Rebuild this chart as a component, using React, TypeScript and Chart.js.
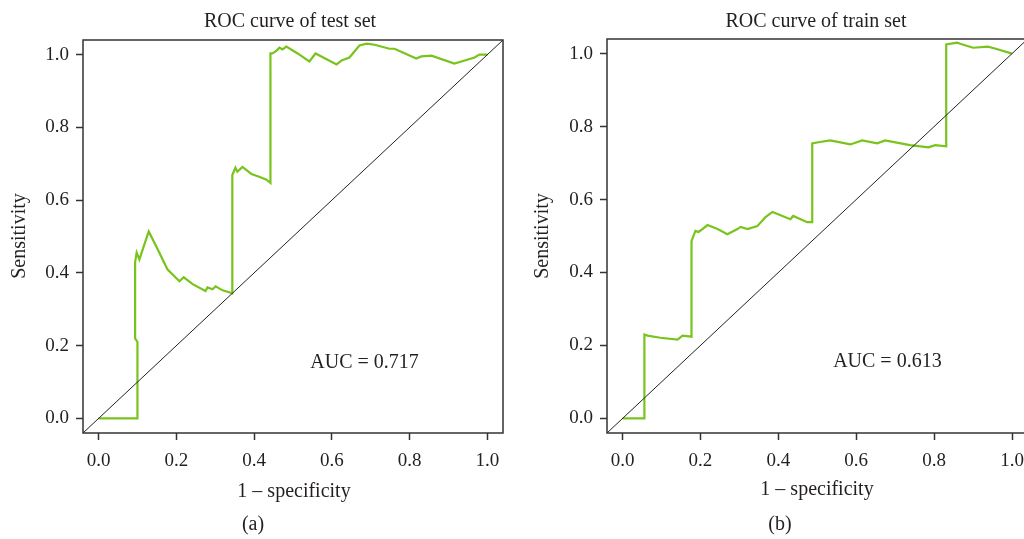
import React, { useEffect, useRef } from 'react';
import { Chart, registerables } from 'chart.js';
Chart.register(...registerables);

const tickValues = [0, 0.2, 0.4, 0.6, 0.8, 1.0];
const axisMin = -0.04;
const axisMax = 1.04;
const diagonal = [-0.04, 1.04];

const testFpr = [0, 0.1, 0.1, 0.094, 0.094, 0.098, 0.105, 0.129, 0.152, 0.177, 0.208, 0.219, 0.242, 0.275, 0.28, 0.293, 0.301, 0.319, 0.344, 0.344, 0.352, 0.357, 0.37, 0.393, 0.413, 0.432, 0.442, 0.442, 0.447, 0.458, 0.465, 0.473, 0.483, 0.512, 0.542, 0.558, 0.612, 0.625, 0.645, 0.671, 0.689, 0.71, 0.748, 0.761, 0.817, 0.83, 0.856, 0.915, 0.933, 0.967, 0.979, 1.0];
const testTpr = [0, 0, 0.21, 0.22, 0.43, 0.456, 0.437, 0.514, 0.465, 0.41, 0.377, 0.388, 0.369, 0.35, 0.36, 0.355, 0.363, 0.352, 0.344, 0.669, 0.689, 0.678, 0.691, 0.672, 0.664, 0.656, 0.647, 1.003, 1.003, 1.011, 1.019, 1.014, 1.022, 1.003, 0.981, 1.003, 0.973, 0.984, 0.992, 1.025, 1.03, 1.027, 1.016, 1.016, 0.989, 0.995, 0.997, 0.975, 0.981, 0.992, 1.0, 1.0];

const trainFpr = [0, 0.056, 0.056, 0.064, 0.097, 0.141, 0.154, 0.177, 0.177, 0.187, 0.195, 0.205, 0.218, 0.244, 0.269, 0.295, 0.303, 0.321, 0.346, 0.362, 0.367, 0.385, 0.431, 0.438, 0.474, 0.487, 0.487, 0.503, 0.533, 0.585, 0.615, 0.654, 0.674, 0.738, 0.785, 0.803, 0.831, 0.831, 0.859, 0.867, 0.9, 0.938, 0.956, 1.0];
const trainTpr = [0, 0, 0.23, 0.227, 0.221, 0.216, 0.227, 0.224, 0.486, 0.514, 0.511, 0.519, 0.53, 0.519, 0.505, 0.519, 0.525, 0.519, 0.527, 0.546, 0.552, 0.566, 0.546, 0.555, 0.538, 0.538, 0.754, 0.757, 0.762, 0.751, 0.762, 0.754, 0.762, 0.749, 0.743, 0.749, 0.746, 1.025, 1.03, 1.027, 1.016, 1.019, 1.014, 1.0];

const FONT = "'Liberation Serif', 'Times New Roman', serif";
const TEXT = '#231f20';
const GREEN = '#78c41c';

type PanelProps = {
  fpr: number[];
  tpr: number[];
  title: string;
  auc: string;
  aucX: number;
  aucY: number;
  panel: string;
  left: number;
  width: number;
  yAxisWidth: number;
  padRight: number;
  padTop: number;
  titleX: number;
  xTitleX: number;
  xTitleY: number;
  yTitleX: number;
  panelX: number;
};

function Panel(p: PanelProps) {
  const ref = useRef<HTMLCanvasElement | null>(null);
  useEffect(() => {
    const canvas = ref.current!;
    const H = 539;
    const plotBottom = 433;
    const textPlugin = {
      id: 'texts',
      afterDraw(chart: any) {
        const ctx = chart.ctx;
        const a = chart.chartArea;
        ctx.save();
        ctx.strokeStyle = '#333';
        ctx.lineWidth = 1.5;
        ctx.strokeRect(a.left, a.top, a.right - a.left, a.bottom - a.top);
        ctx.fillStyle = TEXT;
        ctx.font = `20px ${FONT}`;
        ctx.textAlign = 'center';
        ctx.textBaseline = 'middle';
        ctx.fillText(p.title, p.titleX, 22);
        ctx.fillText('1 \u2013 specificity', p.xTitleX, p.xTitleY);
        ctx.fillText(p.panel, p.panelX, 525);
        const xs = chart.scales.x;
        const ys = chart.scales.y;
        ctx.fillText(p.auc, xs.getPixelForValue(p.aucX), ys.getPixelForValue(p.aucY));
        ctx.translate(p.yTitleX, 236);
        ctx.rotate(-Math.PI / 2);
        ctx.fillText('Sensitivity', 0, 0);
        ctx.restore();
      },
    };
    const chart = new Chart(canvas, {
      type: 'scatter',
      data: {
        datasets: [
          {
            data: diagonal.map((v) => ({ x: v, y: v })),
            showLine: true,
            borderColor: '#222',
            borderWidth: 1,
            pointRadius: 0,
          },
          {
            data: p.fpr.map((x, i) => ({ x, y: p.tpr[i] })),
            showLine: true,
            borderColor: GREEN,
            borderWidth: 2.2,
            pointRadius: 0,
          },
        ],
      },
      options: {
        animation: false,
        responsive: false,
        events: [],
        layout: { padding: { left: 0, right: p.padRight, top: p.padTop, bottom: 0 } },
        plugins: { legend: { display: false }, tooltip: { enabled: false }, title: { display: false } },
        scales: {
          x: {
            type: 'linear',
            min: axisMin,
            max: axisMax,
            afterBuildTicks: (s: any) => {
              s.ticks = tickValues.map((v) => ({ value: v }));
            },
            afterFit: (s: any) => {
              s.height = H - plotBottom;
            },
            ticks: {
              callback: (v: any) => Number(v).toFixed(1),
              font: { family: FONT, size: 19 },
              color: TEXT,
              padding: 10,
              maxRotation: 0,
              autoSkip: false,
            },
            grid: { drawOnChartArea: false, drawTicks: true, tickLength: 7, tickColor: '#333', tickWidth: 1.5 },
            border: { display: false },
          },
          y: {
            type: 'linear',
            min: axisMin,
            max: axisMax,
            afterBuildTicks: (s: any) => {
              s.ticks = tickValues.map((v) => ({ value: v }));
            },
            afterFit: (s: any) => {
              s.width = p.yAxisWidth;
            },
            ticks: {
              callback: (v: any) => Number(v).toFixed(1),
              font: { family: FONT, size: 19 },
              color: TEXT,
              padding: 7,
              autoSkip: false,
            },
            grid: { drawOnChartArea: false, drawTicks: true, tickLength: 7, tickColor: '#333', tickWidth: 1.5 },
            border: { display: false },
          },
        },
      },
      plugins: [textPlugin],
    } as any);
    return () => chart.destroy();
  }, []);
  return (
    <canvas
      ref={ref}
      width={p.width}
      height={539}
      style={{ position: 'absolute', left: p.left, top: 0, width: p.width, height: 539 }}
    />
  );
}

export default function App() {
  return (
    <div style={{ position: 'fixed', left: 0, top: 0, width: 1024, height: 539, overflow: 'hidden', background: '#fff' }}>
      <Panel
        fpr={testFpr}
        tpr={testTpr}
        title="ROC curve of test set"
        auc="AUC = 0.717"
        aucX={0.684}
        aucY={0.152}
        panel="(a)"
        left={0}
        width={512}
        yAxisWidth={83}
        padRight={9}
        padTop={40}
        titleX={290}
        xTitleX={294}
        xTitleY={492}
        yTitleX={20}
        panelX={253}
      />
      <Panel
        fpr={trainFpr}
        tpr={trainTpr}
        title="ROC curve of train set"
        auc="AUC = 0.613"
        aucX={0.68}
        aucY={0.156}
        panel="(b)"
        left={512}
        width={530}
        yAxisWidth={95}
        padRight={14.4}
        padTop={39}
        titleX={304}
        xTitleX={305}
        xTitleY={490}
        yTitleX={31}
        panelX={268}
      />
    </div>
  );
}
